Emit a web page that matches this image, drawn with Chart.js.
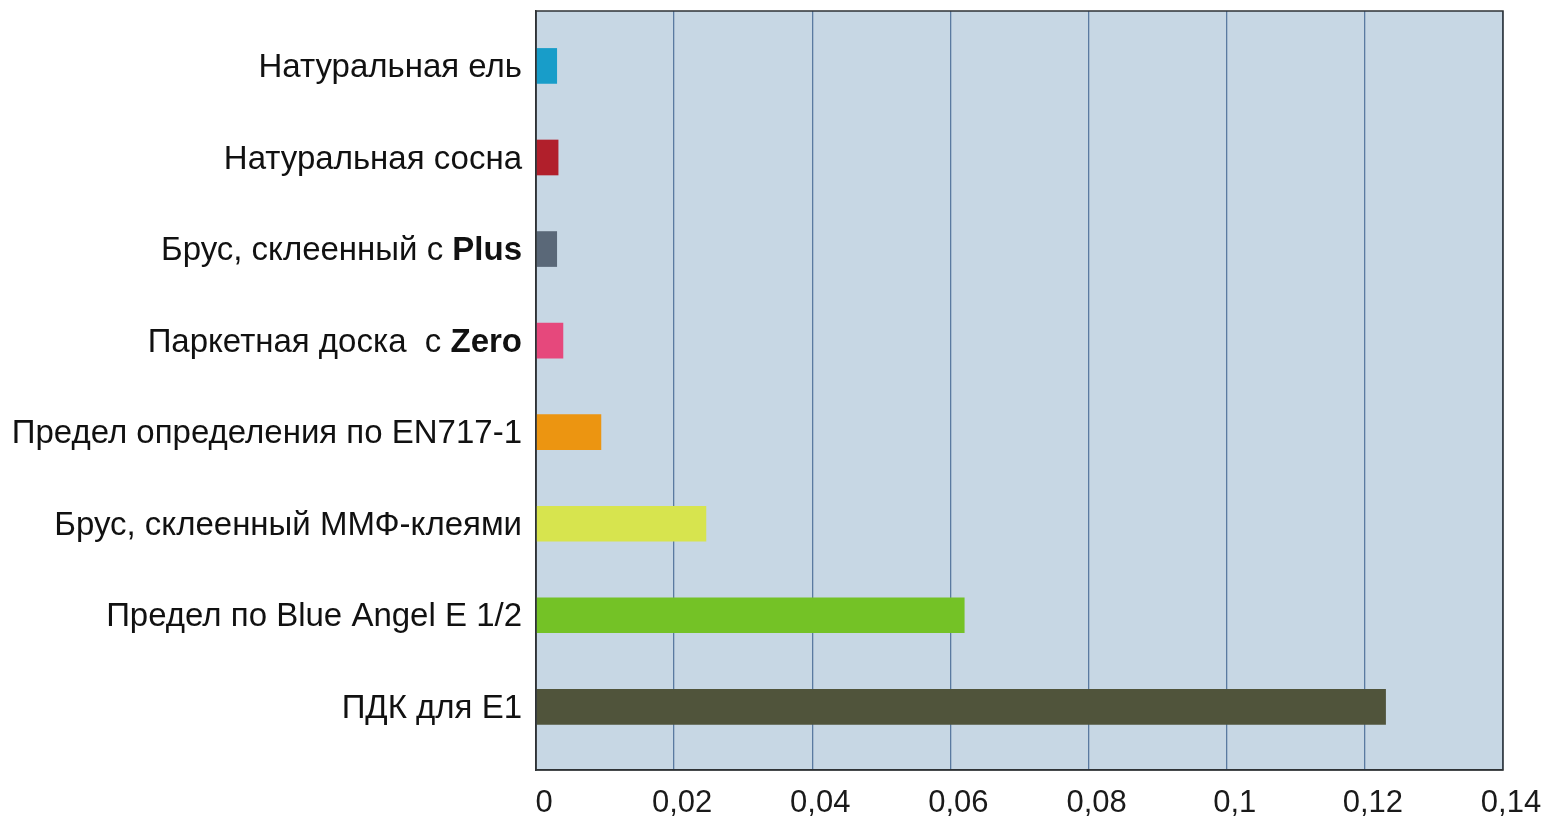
<!DOCTYPE html>
<html>
<head>
<meta charset="utf-8">
<script src="https://cdn.jsdelivr.net/npm/chart.js@4/dist/chart.umd.min.js"></script>
<style>
  html, body { margin: 0; padding: 0; background: #fff; }
  #wrap { width: 1551px; height: 835px; position: relative; }
</style>
</head>
<body>
<div id="wrap"><canvas id="c"></canvas></div>
<script>
const categories = [
  "Натуральная ель",
  "Натуральная сосна",
  "Брус, склеенный с Plus",
  "Паркетная доска  с Zero",
  "Предел определения по EN717-1",
  "Брус, склеенный ММФ-клеями",
  "Предел по Blue Angel E 1/2",
  "ПДК для E1",
];
const boldWords = ["Plus", "Zero"];
const values = [0.003, 0.0032, 0.003, 0.0039, 0.0094, 0.0246, 0.062, 0.123];
const barColors = ["#189dc9", "#b11f2b", "#5a6878", "#e6487c", "#ec9511", "#d7e44e", "#74c226", "#50543b"];
const xTicks = ["0", "0,02", "0,04", "0,06", "0,08", "0,1", "0,12", "0,14"];

const FONT = "'Liberation Sans', Arial, Helvetica, sans-serif";

// split a label into [text, bold] pieces
function parts(label) {
  for (const w of boldWords) {
    if (label.endsWith(w)) return [[label.slice(0, -w.length), false], [w, true]];
  }
  return [[label, false]];
}

const plotBg = {
  id: "plotBg",
  beforeDraw(chart) {
    const { ctx, chartArea: a } = chart;
    ctx.save();
    ctx.fillStyle = "#c7d7e4";
    ctx.fillRect(a.left, a.top, a.right - a.left, a.bottom - a.top);
    ctx.restore();
  },
  afterDraw(chart) {
    const { ctx, chartArea: a } = chart;
    ctx.save();
    ctx.strokeStyle = "#2f3336";
    ctx.lineWidth = 1.5;
    ctx.strokeRect(a.left, a.top, a.right - a.left, a.bottom - a.top);

    // category labels, some with a bold last word
    const y = chart.scales.y;
    ctx.textBaseline = "middle";
    ctx.fillStyle = "#111";
    categories.forEach((lab, i) => {
      const py = y.getPixelForValue(i) + 2;
      let x = a.left - 14;
      parts(lab).reverse().forEach(([t, b]) => {
        ctx.font = (b ? "bold " : "") + "33px " + FONT;
        ctx.textAlign = "right";
        ctx.fillText(t, x, py);
        x -= ctx.measureText(t).width;
      });
    });
    ctx.restore();
  },
};

new Chart(document.getElementById("c"), {
  type: "bar",
  data: {
    datasets: [{
      data: values.map((v, i) => ({ x: v, y: i })),
      backgroundColor: barColors,
      borderWidth: 0,
      barThickness: 35,
    }],
  },
  options: {
    indexAxis: "y",
    responsive: true,
    maintainAspectRatio: false,
    animation: false,
    layout: { padding: { top: 11, right: 48, left: 0, bottom: 0 } },
    plugins: { legend: { display: false }, tooltip: { enabled: false } },
    scales: {
      x: {
        type: "linear",
        min: 0,
        max: 0.14,
        ticks: {
          stepSize: 0.02,
          color: "#1a1a1a",
          font: { family: FONT, size: 31 },
          padding: 15,
          labelOffset: 8,
          callback: (v, i) => xTicks[i],
        },
        grid: { color: "#5a7aa0", lineWidth: 1.3, drawTicks: false },
        border: { color: "#2f3336", width: 1.5 },
        afterFit(s) { s.height = 65; },
      },
      y: {
        type: "linear",
        reverse: true,
        offset: false,
        min: -0.6,
        max: 7.69,
        ticks: { display: false },
        grid: { display: false, drawTicks: false },
        border: { color: "#2f3336", width: 1.5 },
        afterFit(s) { s.width = 536; },
      },
    },
  },
  plugins: [plotBg],
});
</script>
</body>
</html>
